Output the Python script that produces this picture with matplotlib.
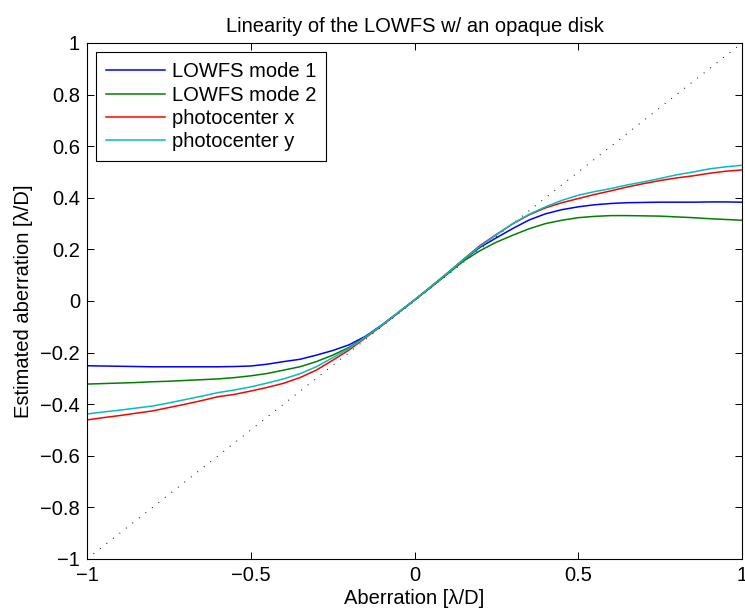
import matplotlib
matplotlib.use("Agg")
import matplotlib.pyplot as plt
import numpy as np

plt.rcParams['font.family'] = ['Liberation Sans', 'DejaVu Sans']

# ---- data ----
aberration = [-1.00, -0.95, -0.90, -0.85, -0.80, -0.75, -0.70, -0.65, -0.60, -0.55,
              -0.50, -0.45, -0.40, -0.35, -0.30, -0.25, -0.20, -0.15, -0.10, -0.05,
              0.00, 0.05, 0.10, 0.15, 0.20, 0.25, 0.30, 0.35, 0.40, 0.45,
              0.50, 0.55, 0.60, 0.65, 0.70, 0.75, 0.80, 0.85, 0.90, 0.95, 1.00]

lowfs_mode1 = [-0.251, -0.252, -0.253, -0.254, -0.255, -0.255, -0.255, -0.255, -0.255, -0.254,
               -0.252, -0.245, -0.235, -0.226, -0.210, -0.192, -0.170, -0.137, -0.093, -0.045,
               0.004, 0.054, 0.106, 0.160, 0.208, 0.245, 0.281, 0.314, 0.338, 0.354,
               0.365, 0.373, 0.378, 0.381, 0.382, 0.383, 0.383, 0.383, 0.384, 0.384, 0.383]

lowfs_mode2 = [-0.322, -0.320, -0.318, -0.316, -0.313, -0.311, -0.308, -0.305, -0.302, -0.297,
               -0.290, -0.281, -0.268, -0.255, -0.235, -0.210, -0.180, -0.140, -0.095, -0.046,
               0.003, 0.053, 0.104, 0.155, 0.195, 0.228, 0.255, 0.280, 0.300, 0.313,
               0.323, 0.328, 0.331, 0.331, 0.330, 0.329, 0.326, 0.323, 0.319, 0.316, 0.313]

photocenter_x = [-0.461, -0.452, -0.444, -0.435, -0.426, -0.413, -0.400, -0.386, -0.371, -0.362,
                 -0.349, -0.335, -0.319, -0.297, -0.268, -0.230, -0.190, -0.143, -0.096, -0.046,
                 0.004, 0.056, 0.108, 0.162, 0.215, 0.258, 0.299, 0.334, 0.361, 0.381,
                 0.397, 0.413, 0.427, 0.442, 0.455, 0.467, 0.477, 0.485, 0.495, 0.503, 0.508]

photocenter_y = [-0.438, -0.430, -0.423, -0.415, -0.407, -0.395, -0.382, -0.369, -0.355, -0.345,
                 -0.333, -0.318, -0.302, -0.282, -0.255, -0.220, -0.184, -0.140, -0.094, -0.045,
                 0.004, 0.055, 0.107, 0.161, 0.212, 0.256, 0.300, 0.336, 0.365, 0.390,
                 0.410, 0.424, 0.436, 0.450, 0.462, 0.475, 0.489, 0.500, 0.512, 0.520, 0.526]

ideal = [-1.0, 1.0]

series_labels = ['LOWFS mode 1', 'LOWFS mode 2', 'photocenter x', 'photocenter y']
series_colors = ['#0000ff', '#008000', '#ff0000', '#00bfbf']

xticks = [-1, -0.5, 0, 0.5, 1]
xtick_labels = ['\u22121', '\u22120.5', '0', '0.5', '1']
yticks = [-1, -0.8, -0.6, -0.4, -0.2, 0, 0.2, 0.4, 0.6, 0.8, 1]
ytick_labels = ['\u22121', '\u22120.8', '\u22120.6', '\u22120.4', '\u22120.2', '0',
                '0.2', '0.4', '0.6', '0.8', '1']

title = 'Linearity of the LOWFS w/ an opaque disk'
xlabel = 'Aberration [\u03bb/D]'
ylabel = 'Estimated aberration [\u03bb/D]'

# ---- figure ----
fig = plt.figure(figsize=(7.45, 6.13), dpi=100)
ax = fig.add_axes([87 / 745, 54 / 613, 655 / 745, 516 / 613])

ax.plot(ideal, ideal, color='black', linestyle=(0, (1, 7.5)), linewidth=0.7, zorder=1)
for vals, lab, col in zip([lowfs_mode1, lowfs_mode2, photocenter_x, photocenter_y],
                          series_labels, series_colors):
    ax.plot(aberration, vals, color=col, linewidth=1.1, label=lab, zorder=2)

ax.set_xlim(-1, 1)
ax.set_ylim(-1, 1)
ax.set_xticks(xticks)
ax.set_xticklabels(xtick_labels)
ax.set_yticks(yticks)
ax.set_yticklabels(ytick_labels)
ax.tick_params(direction='in', length=5, width=0.7, top=True, right=True,
               labelsize=14.5, pad=5, colors='black')
for s in ax.spines.values():
    s.set_linewidth(0.8)
    s.set_color('black')

ax.set_title(title, fontsize=14.5, pad=8)
ax.set_xlabel(xlabel, fontsize=14.5, labelpad=3)
ax.set_ylabel(ylabel, fontsize=14.5, labelpad=5)

leg = ax.legend(loc='upper left', fontsize=14.5, frameon=True, fancybox=False,
                shadow=False, framealpha=1, edgecolor='black',
                handlelength=2.9, handletextpad=0.35, borderpad=0.5,
                labelspacing=0.22, borderaxespad=0.45)
leg.get_frame().set_linewidth(0.8)

fig.savefig('out.png', dpi=100)
